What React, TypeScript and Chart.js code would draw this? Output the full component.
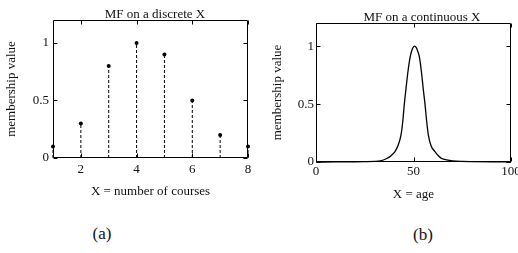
import React, { useEffect, useRef } from "react";
import { Chart, registerables } from "chart.js";

Chart.register(...registerables);

// ---- data ----
const discreteX = [1, 2, 3, 4, 5, 6, 7, 8];
const discreteMF = [0.1, 0.3, 0.8, 1.0, 0.9, 0.5, 0.2, 0.1];
const discreteXTicks = [2, 4, 6, 8];
const mfYTicks = [0, 0.5, 1];

const ageX = [0, 10, 20, 25, 30, 33, 36, 38.5, 40.5, 42, 43.6, 44.5, 45.3, 46.2, 47, 48, 48.6, 49.5, 50.5, 51.5, 52.3, 53, 54.2, 55, 55.9, 56.7, 57.6, 59, 61, 63, 64.5, 67, 70, 75, 80, 90, 100];
const ageMF = [0, 0.0005, 0.0015, 0.003, 0.005, 0.01, 0.028, 0.055, 0.09, 0.14, 0.235, 0.35, 0.5, 0.64, 0.76, 0.88, 0.93, 0.98, 1.0, 0.985, 0.95, 0.91, 0.76, 0.63, 0.5, 0.36, 0.235, 0.14, 0.09, 0.05, 0.03, 0.018, 0.01, 0.005, 0.003, 0.001, 0];
const ageXTicks = [0, 50, 100];

const titleA = "MF on a discrete X";
const titleB = "MF on a continuous X";
const xLabelA = "X = number of courses";
const xLabelB = "X = age";
const yLabel = "membership value";
const captionA = "(a)";
const captionB = "(b)";

const FONT = "'Liberation Serif', 'Times New Roman', serif";
const TEXT_COLOR = "#111";

const boxTicksPlugin = {
  id: "boxTicks",
  afterDatasetsDraw(chart: any, _args: any, opts: any) {
    const { ctx, chartArea: a, scales } = chart;
    const L = Math.round(a.left) + 0.5;
    const R = Math.round(a.right) - 0.5;
    const T = Math.round(a.top) + 0.5;
    const B = Math.round(a.bottom) - 0.5;
    ctx.save();
    ctx.strokeStyle = "#000";
    ctx.lineWidth = 1;
    ctx.setLineDash([]);
    ctx.beginPath();
    ctx.rect(L, T, R - L, B - T);
    const len = 4;
    (opts.xTicks || []).forEach((v: number) => {
      const px = Math.round(scales.x.getPixelForValue(v)) + 0.5;
      ctx.moveTo(px, B);
      ctx.lineTo(px, B - len);
      ctx.moveTo(px, T);
      ctx.lineTo(px, T + len);
    });
    (opts.yTicks || []).forEach((v: number) => {
      const py = Math.round(scales.y.getPixelForValue(v)) + 0.5;
      ctx.moveTo(L, py);
      ctx.lineTo(L + len, py);
      ctx.moveTo(R, py);
      ctx.lineTo(R - len, py);
    });
    ctx.stroke();
    ctx.restore();
  },
};

function makeScales(o: {
  xMin: number; xMax: number; xTicks: number[]; xTitle: string;
  xHeight: number; yWidth: number; xTickPad: number; yTickPad: number;
  xTitlePadBottom: number; yTitlePadTop: number;
}) {
  return {
    x: {
      type: "linear",
      min: o.xMin,
      max: o.xMax,
      afterBuildTicks: (s: any) => {
        s.ticks = o.xTicks.map((v) => ({ value: v }));
      },
      afterFit: (s: any) => {
        s.height = o.xHeight;
      },
      grid: { display: false, drawTicks: false, tickLength: 0 },
      border: { display: false },
      ticks: {
        padding: o.xTickPad,
        color: TEXT_COLOR,
        maxRotation: 0,
        autoSkip: false,
        font: { family: FONT, size: 13 },
        callback: (v: any) => String(v),
      },
      title: {
        display: true,
        text: o.xTitle,
        color: TEXT_COLOR,
        font: { family: FONT, size: 13 },
        padding: { top: 0, bottom: o.xTitlePadBottom },
      },
    },
    y: {
      type: "linear",
      min: 0,
      max: 1.2,
      afterBuildTicks: (s: any) => {
        s.ticks = mfYTicks.map((v) => ({ value: v }));
      },
      afterFit: (s: any) => {
        s.width = o.yWidth;
      },
      grid: { display: false, drawTicks: false, tickLength: 0 },
      border: { display: false },
      ticks: {
        padding: o.yTickPad,
        color: TEXT_COLOR,
        font: { family: FONT, size: 13 },
        callback: (v: any) => String(v),
      },
      title: {
        display: true,
        text: yLabel,
        color: TEXT_COLOR,
        font: { family: FONT, size: 13 },
        padding: { top: o.yTitlePadTop, bottom: 0 },
      },
    },
  };
}

function ChartCanvas({ config, left, top, width, height }: any) {
  const ref = useRef<HTMLCanvasElement | null>(null);
  useEffect(() => {
    if (!ref.current) return;
    const chart = new Chart(ref.current, config);
    return () => chart.destroy();
  }, []);
  return (
    <canvas
      ref={ref}
      width={width}
      height={height}
      style={{ position: "absolute", left, top, width, height }}
    />
  );
}

function Label({ text, x, y, size }: any) {
  return (
    <div
      style={{
        position: "absolute",
        left: x,
        top: y,
        transform: "translate(-50%, -50%)",
        whiteSpace: "nowrap",
        fontFamily: FONT,
        fontSize: size,
        lineHeight: 1,
        color: TEXT_COLOR,
      }}
    >
      {text}
    </div>
  );
}

export default function App() {
  const configA: any = {
    type: "line",
    data: {
      datasets: discreteX.map((x, i) => ({
        data: [
          { x, y: 0 },
          { x, y: discreteMF[i] },
        ],
        borderColor: "#000",
        borderWidth: 1,
        borderDash: [3, 2],
        pointRadius: [0, 2],
        pointBackgroundColor: "#000",
        pointBorderWidth: 0,
        clip: false,
      })),
    },
    options: {
      responsive: false,
      animation: false,
      layout: { padding: { top: 20, right: 11, left: 0, bottom: 0 } },
      plugins: {
        legend: { display: false },
        tooltip: { enabled: false },
        title: { display: false },
        boxTicks: { xTicks: discreteXTicks, yTicks: mfYTicks },
      },
      scales: makeScales({
        xMin: 1, xMax: 8, xTicks: discreteXTicks, xTitle: xLabelA,
        xHeight: 47, yWidth: 53, xTickPad: 4, yTickPad: 4,
        xTitlePadBottom: 6, yTitlePadTop: 4,
      }),
    },
    plugins: [boxTicksPlugin],
  };

  const configB: any = {
    type: "line",
    data: {
      datasets: [
        {
          data: ageX.map((x, i) => ({ x, y: ageMF[i] })),
          borderColor: "#000",
          borderWidth: 1.3,
          pointRadius: 0,
          cubicInterpolationMode: "monotone",
          clip: false,
        },
      ],
    },
    options: {
      responsive: false,
      animation: false,
      layout: { padding: { top: 23, right: 23, left: 0, bottom: 0 } },
      plugins: {
        legend: { display: false },
        tooltip: { enabled: false },
        title: { display: false },
        boxTicks: { xTicks: ageXTicks, yTicks: mfYTicks },
      },
      scales: makeScales({
        xMin: 0, xMax: 100, xTicks: ageXTicks, xTitle: xLabelB,
        xHeight: 43, yWidth: 57, xTickPad: 2, yTickPad: 2,
        xTitlePadBottom: 3, yTitlePadTop: 11,
      }),
    },
    plugins: [boxTicksPlugin],
  };

  return (
    <div
      style={{
        position: "absolute",
        left: 0,
        top: 0,
        width: 518,
        height: 253,
        overflow: "hidden",
        background: "#fff",
      }}
    >
      <ChartCanvas config={configA} left={0} top={0} width={259} height={205} />
      <ChartCanvas config={configB} left={259} top={0} width={275} height={205} />
      <Label text={titleA} x={155} y={13} size={13} />
      <Label text={titleB} x={422} y={16} size={13} />
      <Label text={captionA} x={102} y={233} size={17} />
      <Label text={captionB} x={423} y={234} size={17} />
    </div>
  );
}
